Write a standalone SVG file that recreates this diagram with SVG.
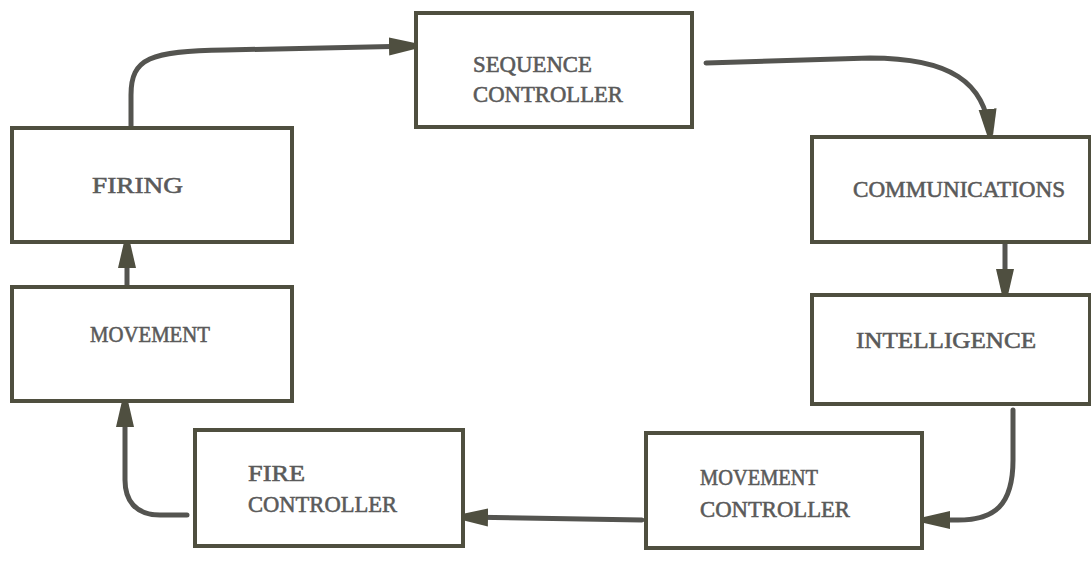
<svg xmlns="http://www.w3.org/2000/svg" width="1091" height="562" viewBox="0 0 1091 562">
<style>
.box{fill:#ffffff;stroke:#4f4f3f;stroke-width:4}
.lbl{font-family:"Liberation Serif","Times New Roman",serif;font-size:24px;fill:#5a5a5a;stroke:#5a5a5a;stroke-width:0.6}
.con{fill:none;stroke:#545450;stroke-width:5;stroke-linecap:round;stroke-linejoin:round}
</style>
<defs>
<marker id="ah" viewBox="0 0 26 20" refX="25" refY="10" markerWidth="26" markerHeight="20" markerUnits="userSpaceOnUse" orient="auto">
<path d="M0,1 L26,7 L26,13 L0,19 Z" fill="#4f4f40"/>
</marker>
</defs>
<rect width="1091" height="562" fill="#ffffff"/>
<g id="connectors">
<path class="con" d="M131,128 L131,95 C131,58 150,51 225,50 L414,46" marker-end="url(#ah)"/>
<path class="con" d="M706,63 L870,58 C950,58 985,82 990,134" marker-end="url(#ah)"/>
<path class="con" d="M1005,243 L1005,294" marker-end="url(#ah)"/>
<path class="con" d="M1013,410 L1013,460 C1013,505 995,521 955,520 L925,520" marker-end="url(#ah)"/>
<path class="con" d="M642,520 L463,517" marker-end="url(#ah)"/>
<path class="con" d="M187,515 L160,515 C135,515 125,500 125,480 L125,402" marker-end="url(#ah)"/>
<path class="con" d="M127,287 L127,243" marker-end="url(#ah)"/>
</g>
<g id="sequence-controller">
<rect class="box" x="416" y="13" width="276" height="114"/>
<text class="lbl" x="473" y="72" textLength="119" lengthAdjust="spacingAndGlyphs">SEQUENCE</text>
<text class="lbl" x="473" y="102" textLength="150" lengthAdjust="spacingAndGlyphs">CONTROLLER</text>
</g>
<g id="communications">
<rect class="box" x="812" y="137" width="278" height="105"/>
<text class="lbl" x="853" y="197" textLength="212" lengthAdjust="spacingAndGlyphs">COMMUNICATIONS</text>
</g>
<g id="intelligence">
<rect class="box" x="812" y="295" width="278" height="109"/>
<text class="lbl" x="856" y="348" textLength="180" lengthAdjust="spacingAndGlyphs">INTELLIGENCE</text>
</g>
<g id="movement-controller">
<rect class="box" x="646" y="433" width="276" height="115"/>
<text class="lbl" x="700" y="485" textLength="118" lengthAdjust="spacingAndGlyphs">MOVEMENT</text>
<text class="lbl" x="700" y="517" textLength="150" lengthAdjust="spacingAndGlyphs">CONTROLLER</text>
</g>
<g id="fire-controller">
<rect class="box" x="195" y="430" width="268" height="116"/>
<text class="lbl" x="248" y="481" textLength="57" lengthAdjust="spacingAndGlyphs">FIRE</text>
<text class="lbl" x="248" y="512" textLength="149" lengthAdjust="spacingAndGlyphs">CONTROLLER</text>
</g>
<g id="movement">
<rect class="box" x="12" y="287" width="280" height="114"/>
<text class="lbl" x="90" y="342" textLength="120" lengthAdjust="spacingAndGlyphs">MOVEMENT</text>
</g>
<g id="firing">
<rect class="box" x="12" y="128" width="280" height="114"/>
<text class="lbl" x="92" y="193" textLength="91" lengthAdjust="spacingAndGlyphs">FIRING</text>
</g>
</svg>
